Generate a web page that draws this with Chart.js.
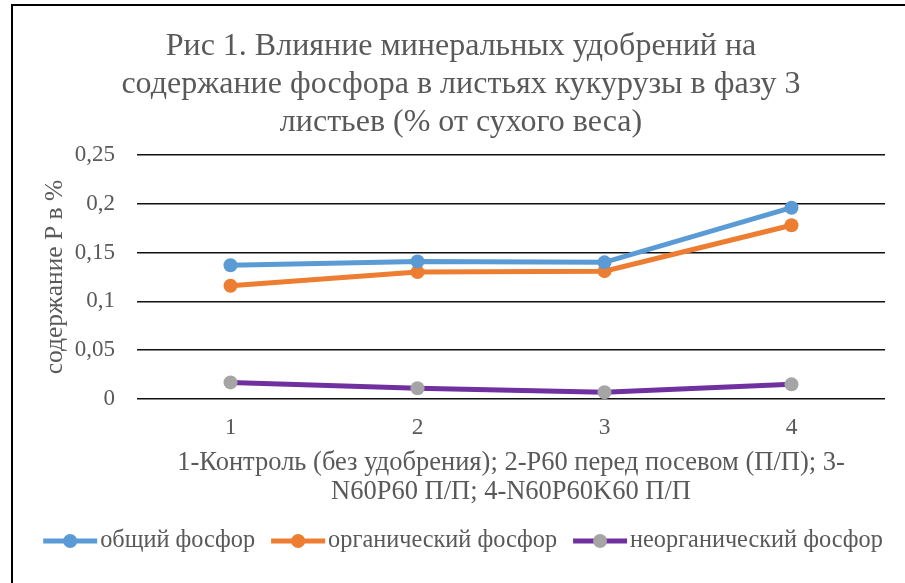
<!DOCTYPE html>
<html>
<head>
<meta charset="utf-8">
<script src="https://cdn.jsdelivr.net/npm/chart.js@4"></script>
<style>
  html, body { margin: 0; padding: 0; background: #fff; overflow: hidden; }
  #wrap { position: relative; width: 905px; height: 583px; }
  #frame { position: absolute; left: 11px; top: 4px; right: -10px; bottom: -10px;
           border-left: 2px solid #000; border-top: 2px solid #000; pointer-events: none; }
  canvas { position: absolute; left: 0; top: 0; }
</style>
</head>
<body>
<div id="wrap">
  <canvas id="c" width="905" height="583"></canvas>
  <div id="frame"></div>
</div>
<script>
// Categories (treatment numbers) and phosphorus content, % of dry weight
const categories = ['1', '2', '3', '4'];
const totalP     = [0.137, 0.141, 0.140, 0.196];
const organicP   = [0.116, 0.130, 0.131, 0.178];
const inorganicP = [0.017, 0.011, 0.007, 0.015];
const yTicks = [0, 0.05, 0.1, 0.15, 0.2, 0.25];

const seriesNames = ['общий фосфор', 'органический фосфор', 'неорганический фосфор'];
const titleLines = [
  'Рис 1. Влияние минеральных удобрений на',
  'содержание фосфора в листьях кукурузы в фазу 3',
  'листьев (% от сухого веса)'
];
const xTitleLines = [
  '1-Контроль (без удобрения); 2-Р60 перед посевом (П/П); 3-',
  'N60P60 П/П; 4-N60P60K60 П/П'
];
const yTitle = 'содержание P в %';

const SERIF = "'Liberation Serif', 'DejaVu Serif', serif";
const TEXT = '#595959';

function series(label, data, line, marker) {
  return {
    label, data,
    borderColor: line, backgroundColor: marker,
    pointBackgroundColor: marker, pointBorderColor: marker,
    borderWidth: 5, pointRadius: 7, pointHoverRadius: 7,
    pointBorderWidth: 0, tension: 0
  };
}

// Chart heading drawn above the plot
const headline = {
  id: 'headline',
  afterDraw(chart) {
    const ctx = chart.ctx;
    ctx.save();
    ctx.font = '32px ' + SERIF;
    ctx.fillStyle = TEXT;
    ctx.textAlign = 'center';
    ctx.textBaseline = 'middle';
    titleLines.forEach((t, i) => ctx.fillText(t, 461, 47 + i * 38));
    ctx.restore();
  }
};

// Legend with a line-and-marker swatch next to each series name
const lineLegend = {
  id: 'lineLegend',
  afterDraw(chart) {
    const ctx = chart.ctx;
    ctx.save();
    ctx.font = '24.3px ' + SERIF;
    ctx.textBaseline = 'middle';
    const sw = 54, gapText = 3, gapItem = 16, y = 541;
    const items = chart.data.datasets.map(ds => ({
      ds, w: sw + gapText + ctx.measureText(ds.label).width
    }));
    const total = items.reduce((s, it) => s + it.w, 0) + gapItem * (items.length - 1);
    let x = 463 - total / 2;
    items.forEach(({ds, w}) => {
      ctx.strokeStyle = ds.borderColor;
      ctx.lineWidth = 5;
      ctx.beginPath();
      ctx.moveTo(x, y); ctx.lineTo(x + sw, y);
      ctx.stroke();
      ctx.fillStyle = ds.pointBackgroundColor;
      ctx.beginPath();
      ctx.arc(x + sw / 2, y, 7, 0, Math.PI * 2);
      ctx.fill();
      ctx.fillStyle = TEXT;
      ctx.fillText(ds.label, x + sw + gapText, y);
      x += w + gapItem;
    });
    ctx.restore();
  }
};

function build() {
  new Chart(document.getElementById('c'), {
    type: 'line',
    data: {
      labels: categories,
      datasets: [
        series(seriesNames[0], totalP, '#5B9BD5', '#5B9BD5'),
        series(seriesNames[1], organicP, '#ED7D31', '#ED7D31'),
        series(seriesNames[2], inorganicP, '#7030A0', '#A5A5A5')
      ]
    },
    options: {
      responsive: false,
      animation: false,
      layout: { padding: { top: 155, right: 20, bottom: 60, left: 0 } },
      plugins: {
        legend: { display: false },
        title: { display: false },
        tooltip: { enabled: false }
      },
      scales: {
        x: {
          offset: true,
          grid: { display: false },
          border: { display: false },
          ticks: { color: TEXT, font: { family: SERIF, size: 23.5 }, padding: 7 },
          title: {
            display: true, text: xTitleLines, color: TEXT,
            font: { family: SERIF, size: 26.5, lineHeight: 1.094 },
            padding: { top: 0, bottom: 16 }
          },
          afterFit(scale) { scale.height = 124; }
        },
        y: {
          min: 0, max: 0.25,
          afterBuildTicks(scale) { scale.ticks = yTicks.map(v => ({ value: v })); },
          grid: { color: '#111', lineWidth: 1.6, drawTicks: false },
          border: { display: false },
          ticks: {
            color: TEXT, font: { family: SERIF, size: 23 }, padding: 22,
            callback: v => String(v).replace('.', ',')
          },
          title: {
            display: true, text: yTitle, color: TEXT,
            font: { family: SERIF, size: 25.5, lineHeight: 1.2 },
            padding: { top: 40, bottom: 0 }
          },
          afterFit(scale) { scale.width = 137; }
        }
      }
    },
    plugins: [headline, lineLegend]
  });
}

const faces = ["24px 'Liberation Serif'", "32px 'Liberation Serif'"];
Promise.all(faces.map(f => document.fonts.load(f, 'Рис 0,25'))).then(build, build);
</script>
</body>
</html>
